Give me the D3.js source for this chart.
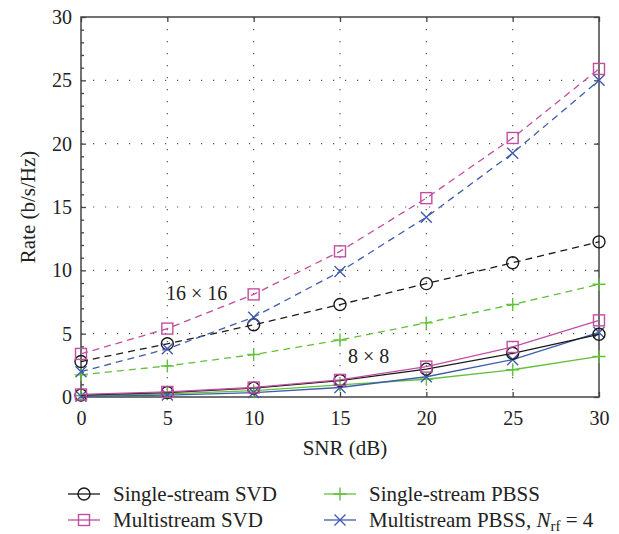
<!DOCTYPE html>
<html>
<head>
<meta charset="utf-8">
<script src="https://cdn.jsdelivr.net/npm/d3@7"></script>
<style>
  body { margin: 0; background: #fff; }
  svg { font-family: "Liberation Serif", "DejaVu Serif", serif; }
</style>
</head>
<body>
<div id="chart"></div>
<script>
// SNR values (dB)
var snr = [0, 5, 10, 15, 20, 25, 30]

// 16 x 16 (dashed)
var svdSingle16 = [2.8, 4.2, 5.7, 7.3, 8.95, 10.6, 12.25]
var svdMulti16 = [3.4, 5.4, 8.1, 11.5, 15.7, 20.45, 25.9]
var pbssSingle16 = [1.75, 2.45, 3.35, 4.5, 5.85, 7.3, 8.9]
var pbssMulti16 = [2.0, 3.8, 6.3, 9.9, 14.2, 19.25, 25.0]

// 8 x 8 (solid)
var svdSingle8 = [0.15, 0.35, 0.7, 1.3, 2.2, 3.45, 4.95]
var svdMulti8 = [0.2, 0.4, 0.75, 1.35, 2.4, 3.95, 6.05]
var pbssSingle8 = [0.1, 0.25, 0.5, 0.95, 1.4, 2.15, 3.2]
var pbssMulti8 = [0.05, 0.15, 0.35, 0.75, 1.6, 2.95, 5.1]

var xTicks = [0, 5, 10, 15, 20, 25, 30]
var yTicks = [0, 5, 10, 15, 20, 25, 30]

var black = "#1a1a1a", magenta = "#c24ea0", green = "#62c13a", blue = "#3f5cae"

var series = [
    { values: svdSingle16, color: black, marker: "circle", dash: true },
    { values: pbssSingle16, color: green, marker: "plus", dash: true },
    { values: pbssMulti16, color: blue, marker: "cross", dash: true },
    { values: svdMulti16, color: magenta, marker: "square", dash: true },
    { values: pbssSingle8, color: green, marker: "plus", dash: false },
    { values: pbssMulti8, color: blue, marker: "cross", dash: false },
    { values: svdSingle8, color: black, marker: "circle", dash: false },
    { values: svdMulti8, color: magenta, marker: "square", dash: false }
]

var W = 619, H = 534
var pL = 81, pR = 599, pT = 17, pB = 397

var svg = d3.select("#chart").append("svg")
    .attr("width", W)
    .attr("height", H)

var x = d3.scaleLinear().domain([0, 30]).range([pL, pR])
var y = d3.scaleLinear().domain([0, 30]).range([pB, pT])

// grid
var grid = svg.append("g")
grid.selectAll(".gx").data(xTicks.slice(1, -1)).enter().append("line")
    .attr("x1", d => x(d)).attr("x2", d => x(d))
    .attr("y1", pT).attr("y2", pB)
    .attr("stroke", "#555").attr("stroke-width", 1.2)
    .attr("stroke-dasharray", "1.2,10.8")
grid.selectAll(".gy").data(yTicks.slice(1, -1)).enter().append("line")
    .attr("y1", d => y(d)).attr("y2", d => y(d))
    .attr("x1", pL).attr("x2", pR)
    .attr("stroke", "#555").attr("stroke-width", 1.2)
    .attr("stroke-dasharray", "1.2,10.8")

// axes (ticks inward)
var axisColor = "#444"
function styleAxis(g) {
    g.select(".domain").remove()
    g.selectAll(".tick line").attr("stroke", axisColor).attr("stroke-width", 1.3)
    g.selectAll(".tick text").attr("font-size", 20).attr("fill", "#222")
        .attr("font-family", "Liberation Serif, serif")
}

svg.append("g").attr("transform", "translate(0," + pB + ")")
    .call(d3.axisBottom(x).tickValues(xTicks).tickSize(-5).tickPadding(10))
    .call(styleAxis)
    .selectAll(".tick text").attr("dy", "0.9em")
svg.append("g").attr("transform", "translate(0," + pT + ")")
    .call(d3.axisTop(x).tickValues(xTicks).tickSize(-5).tickFormat(""))
    .call(styleAxis)
svg.append("g").attr("transform", "translate(" + pL + ",0)")
    .call(d3.axisLeft(y).tickValues(yTicks).tickSize(-5).tickPadding(9))
    .call(styleAxis)
svg.append("g").attr("transform", "translate(" + pR + ",0)")
    .call(d3.axisRight(y).tickValues(yTicks).tickSize(-5).tickFormat(""))
    .call(styleAxis)
svg.append("g").attr("transform", "translate(" + pL + ",0)")
    .call(d3.axisLeft(y).tickValues(d3.range(1, 30).filter(v => v % 5)).tickSize(-3).tickFormat(""))
    .call(styleAxis)

svg.append("rect")
    .attr("x", pL).attr("y", pT)
    .attr("width", pR - pL).attr("height", pB - pT)
    .attr("fill", "none").attr("stroke", axisColor).attr("stroke-width", 1.5)

// lines
var line = d3.line().x((d, i) => x(snr[i])).y(d => y(d))

function drawMarker(g, type, color, cx, cy) {
    if (type === "circle") {
        g.append("circle").attr("cx", cx).attr("cy", cy).attr("r", 6)
            .attr("fill", "none").attr("stroke", color).attr("stroke-width", 1.4)
    } else if (type === "square") {
        g.append("rect").attr("x", cx - 5.5).attr("y", cy - 5.5)
            .attr("width", 11).attr("height", 11)
            .attr("fill", "none").attr("stroke", color).attr("stroke-width", 1.4)
    } else if (type === "plus") {
        g.append("path").attr("d", "M" + (cx - 6.5) + "," + cy + "h13M" + cx + "," + (cy - 6.5) + "v13")
            .attr("stroke", color).attr("stroke-width", 1.4).attr("fill", "none")
    } else if (type === "cross") {
        g.append("path").attr("d", "M" + (cx - 5.5) + "," + (cy - 5.5) + "l11,11M" + (cx - 5.5) + "," + (cy + 5.5) + "l11,-11")
            .attr("stroke", color).attr("stroke-width", 1.4).attr("fill", "none")
    }
}

series.forEach(s => {
    var g = svg.append("g")
    g.append("path")
        .attr("d", line(s.values))
        .attr("fill", "none")
        .attr("stroke", s.color)
        .attr("stroke-width", 1.3)
        .attr("stroke-dasharray", s.dash ? "7,5" : null)
    s.values.forEach((v, i) => drawMarker(g, s.marker, s.color, x(snr[i]), y(v)))
})

// annotations
svg.append("text").attr("x", 166).attr("y", 300).attr("font-size", 20).attr("fill", "#222")
    .text("16 \u00d7 16")
svg.append("text").attr("x", 348).attr("y", 363).attr("font-size", 20).attr("fill", "#222")
    .text("8 \u00d7 8")

// axis titles
svg.append("text")
    .attr("transform", "translate(35,207) rotate(-90)")
    .attr("text-anchor", "middle").attr("font-size", 21).attr("fill", "#222")
    .text("Rate (b/s/Hz)")
svg.append("text")
    .attr("x", 345).attr("y", 455)
    .attr("text-anchor", "middle").attr("font-size", 21).attr("fill", "#222")
    .text("SNR (dB)")

// legend
var legendItems = [
    { label: "Single-stream SVD", color: black, marker: "circle", lx: 68, ly: 494 },
    { label: "Multistream SVD", color: magenta, marker: "square", lx: 68, ly: 520 },
    { label: "Single-stream PBSS", color: green, marker: "plus", lx: 324, ly: 494 },
    { label: "Multistream PBSS, ", color: blue, marker: "cross", lx: 324, ly: 520, nrf: true }
]
legendItems.forEach(d => {
    var g = svg.append("g")
    g.append("line").attr("x1", d.lx).attr("x2", d.lx + 32)
        .attr("y1", d.ly).attr("y2", d.ly)
        .attr("stroke", d.color).attr("stroke-width", 1.3)
    drawMarker(g, d.marker, d.color, d.lx + 16, d.ly)
    var t = g.append("text").attr("x", d.lx + 45).attr("y", d.ly + 7)
        .attr("font-size", 21).attr("fill", "#222")
        .text(d.label)
    if (d.nrf) {
        t.append("tspan").attr("font-style", "italic").text("N")
        t.append("tspan").attr("font-size", 15).attr("dy", 4).text("rf")
        t.append("tspan").attr("dy", -4).text(" = 4")
    }
})
</script>
</body>
</html>
